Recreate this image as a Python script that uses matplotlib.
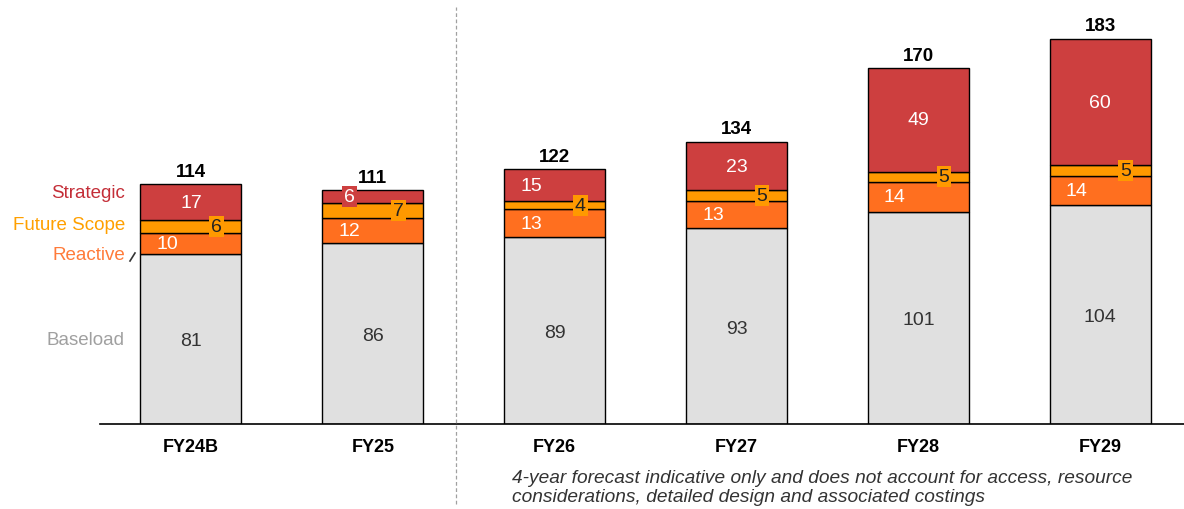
import matplotlib.pyplot as plt
import numpy as np

plt.rcParams['font.family'] = ['Liberation Sans', 'DejaVu Sans']

years = ['FY24B', 'FY25', 'FY26', 'FY27', 'FY28', 'FY29']
baseload = [81, 86, 89, 93, 101, 104]
reactive = [10, 12, 13, 13, 14, 14]
future = [6, 7, 4, 5, 5, 5]
strategic = [17, 6, 15, 23, 49, 60]
totals = [114, 111, 122, 134, 170, 183]

c_base = '#e0e0e0'
c_react = '#ff6f1f'
c_fut = '#ff9900'
c_strat = '#cd3f3f'

fig = plt.figure(figsize=(11.84, 5.10), dpi=100)
ax = fig.add_axes([100 / 1184, 85 / 510, 1 - 100 / 1184, 425 / 510])

x = np.arange(len(years))
w = 0.555
b0 = np.array(baseload)
b1 = b0 + np.array(reactive)
b2 = b1 + np.array(future)
ax.bar(x, baseload, w, color=c_base, edgecolor='black', lw=1, zorder=2)
ax.bar(x, reactive, w, bottom=b0, color=c_react, edgecolor='black', lw=1, zorder=2)
ax.bar(x, future, w, bottom=b1, color=c_fut, edgecolor='black', lw=1, zorder=2)
ax.bar(x, strategic, w, bottom=b2, color=c_strat, edgecolor='black', lw=1, zorder=2)

# segment labels
fs = 14
strat_dx = [0, -0.13, -0.13, 0, 0, 0]
for i in range(len(years)):
    ax.text(x[i], baseload[i] * 0.49, str(baseload[i]), ha='center', va='center',
            fontsize=fs, color='#333333', zorder=3)
    ax.text(x[i] - 0.13, b0[i] + reactive[i] / 2, str(reactive[i]), ha='center', va='center',
            fontsize=fs, color='white', zorder=3)
    ax.text(x[i] + 0.14, b1[i] + future[i] / 2, str(future[i]), ha='center', va='center',
            fontsize=fs, color='#222222', zorder=4,
            bbox=dict(boxstyle='square,pad=0.1', fc=c_fut, ec='none'))
    sbox = dict(boxstyle='square,pad=0.1', fc=c_strat, ec='none') if strategic[i] < 10 else None
    ax.text(x[i] + strat_dx[i], b2[i] + strategic[i] / 2, str(strategic[i]), ha='center', va='center',
            fontsize=fs, color='white', zorder=4, bbox=sbox)
    top = b2[i] + strategic[i]
    ax.text(x[i], top + 2.2, str(totals[i]), ha='center', va='bottom',
            fontsize=13.5, fontweight='bold', color='black')

ax.set_xlim(-0.5, 5.46)
ax.set_ylim(0, 202)
ax.set_xticks(x)
ax.set_xticklabels(years, fontsize=13, fontweight='bold')
ax.tick_params(axis='x', length=0, pad=10)
ax.set_yticks([])
for s in ['top', 'right', 'left']:
    ax.spines[s].set_visible(False)
ax.spines['bottom'].set_linewidth(1.2)

# divider between actuals and forecast
fig.add_artist(plt.Line2D([456 / 1184, 456 / 1184], [5 / 510, 502 / 510], color='#a0a0a0',
                          lw=0.9, ls=(0, (3, 2))))

# series labels on the left
lx = 125 / 1184
fig.text(lx, 1 - 193 / 510, 'Strategic', ha='right', va='center', fontsize=13.5, color='#c42e38')
fig.text(lx, 1 - 226 / 510, 'Future Scope', ha='right', va='center', fontsize=13.5, color='#ffa000')
fig.text(lx, 1 - 256 / 510, 'Reactive', ha='right', va='center', fontsize=13.5, color='#ff7b3a')
fig.text(lx, 1 - 341 / 510, 'Baseload', ha='right', va='center', fontsize=13.5, color='#a0a0a0')
fig.add_artist(plt.Line2D([130 / 1184, 135 / 1184], [1 - 262 / 510, 1 - 254 / 510], color='#333333', lw=1.2))

fig.text(512 / 1184, 1 - 488 / 510,
         '4-year forecast indicative only and does not account for access, resource\n'
         'considerations, detailed design and associated costings',
         ha='left', va='center', fontsize=13.8, style='italic', color='#333333', linespacing=1.1)

fig.savefig('out.png', dpi=100)
